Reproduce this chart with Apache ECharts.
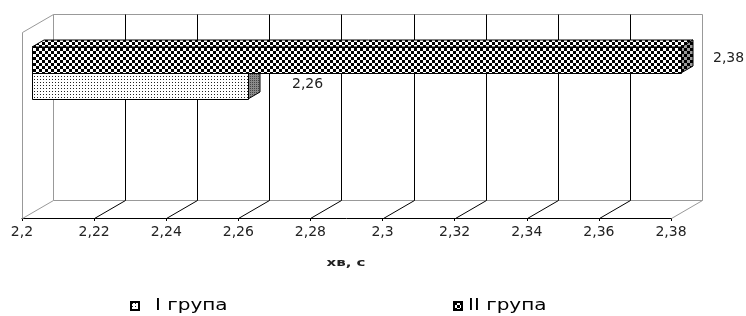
<!DOCTYPE html>
<html><head><meta charset="utf-8">
<script src="https://cdn.jsdelivr.net/npm/echarts@6/dist/echarts.min.js"></script>
<style>html,body{margin:0;padding:0;background:#fff}#c{width:746px;height:316px}</style>
</head><body><div id="c"></div>
<script>
// ---- data ----
const groups = ['I група', 'II група'];
const values = [2.26, 2.38];
const rowCategories = ['', 'row'];
const tickValues = [2.2, 2.22, 2.24, 2.26, 2.28, 2.3, 2.32, 2.34, 2.36, 2.38];
const tickLabels = ['2,2', '2,22', '2,24', '2,26', '2,28', '2,3', '2,32', '2,34', '2,36', '2,38'];
const axisTitle = 'хв, с';

// ---- styles ----
const FONT = 'DejaVu Sans';
const WALL_DX = 31, WALL_DY = 18;     // 3D wall depth
const BAR_FX = 10, BAR_FY = 6;        // bar front offset
const BAR_DX = 12, BAR_DY = 7;        // bar depth
const labelDx = [44, 32];
const legendIconLeft = [130, 453];
const legendTextLeft = [155, 468];

function pattern(w, h, draw) {
  const c = document.createElement('canvas'); c.width = w; c.height = h;
  const g = c.getContext('2d'); draw(g, w, h);
  return { image: c, repeat: 'repeat' };
}
const checkerFront = pattern(6, 6, (g) => { g.fillStyle = '#fff'; g.fillRect(0,0,6,6); g.fillStyle = '#000'; g.fillRect(0,0,3,3); g.fillRect(3,3,3,3); });
const checkerSide = pattern(6, 6, (g) => { g.fillStyle = '#9a9a9a'; g.fillRect(0,0,6,6); g.fillStyle = '#000'; g.fillRect(0,0,3,3); g.fillRect(3,3,3,3); });
const dotsFront = pattern(3, 3, (g) => { g.fillStyle = '#fff'; g.fillRect(0,0,3,3); g.fillStyle = '#222'; g.fillRect(1,1,1,1); });
const dotsSide = pattern(2, 2, (g) => { g.fillStyle = '#8a8a8a'; g.fillRect(0,0,2,2); g.fillStyle = '#444'; g.fillRect(0,0,1,1); });
const fills = [
  { front: dotsFront, top: dotsFront, side: dotsSide },
  { front: checkerFront, top: checkerFront, side: checkerSide }
];

const h5 = (v) => Math.round(v) + 0.5;

function wallRender(params, api) {
  const cs = params.coordSys;
  const v = api.value(0);
  const x = Math.round(api.coord([v, 0])[0]);
  const top = cs.y, bottom = cs.y + cs.height, right = cs.x + cs.width;
  const edge = (v === tickValues[0] || v === tickValues[tickValues.length - 1]);
  const col = edge ? '#999' : '#000';
  const gray = '#999';
  const line = (x1, y1, x2, y2, c) => ({ type: 'line', shape: { x1: h5(x1), y1: h5(y1), x2: h5(x2), y2: h5(y2) }, style: { stroke: c, lineWidth: 1 } });
  const children = [
    line(x, bottom, x + WALL_DX, bottom - WALL_DY, col),
    line(x + WALL_DX, bottom - WALL_DY, x + WALL_DX, top - WALL_DY, col)
  ];
  if (v === tickValues[0]) {
    children.push(line(x, top, x, bottom, gray));
    children.push(line(x, top, x + WALL_DX, top - WALL_DY, gray));
    children.push(line(x + WALL_DX, bottom - WALL_DY, right + WALL_DX, bottom - WALL_DY, gray));
    children.push(line(x + WALL_DX, top - WALL_DY, right + WALL_DX, top - WALL_DY, gray));
  }
  return { type: 'group', children };
}

function barRender(si) {
  return function (params, api) {
    const v = api.value(0), cat = api.value(1);
    const p0 = api.coord([tickValues[0], cat]);
    const p1 = api.coord([v, cat]);
    const band = api.size([0, 1])[1];
    const h = Math.round(band * 0.28);
    const center = Math.round(p0[1]);
    const yt = (si === 0 ? center : center - h) - BAR_FY;
    const yb = yt + h;
    const x0 = Math.round(p0[0]) + BAR_FX, x1 = Math.round(p1[0]) + BAR_FX;
    const f = fills[si];
    const st = (fill) => ({ fill, stroke: '#000', lineWidth: 1 });
    return {
      type: 'group',
      children: [
        { type: 'polygon', shape: { points: [[x0, yt], [x1, yt], [x1 + BAR_DX, yt - BAR_DY], [x0 + BAR_DX, yt - BAR_DY]] }, style: st(f.top) },
        { type: 'polygon', shape: { points: [[x1, yt], [x1 + BAR_DX, yt - BAR_DY], [x1 + BAR_DX, yb - BAR_DY], [x1, yb]] }, style: st(f.side) },
        { type: 'rect', shape: { x: x0 + 0.5, y: yt + 0.5, width: x1 - x0, height: h }, style: st(f.front) },
        { type: 'text', x: x1 + labelDx[si], y: (yt + yb) / 2 - 2,
          style: { text: String(v).replace('.', ','), font: '14px "' + FONT + '"', fill: '#222', align: 'left', verticalAlign: 'middle' } }
      ]
    };
  };
}

const chart = echarts.init(document.getElementById('c'), null, { renderer: 'canvas' });
chart.setOption({
  animation: false,
  backgroundColor: '#fff',
  textStyle: { fontFamily: FONT },
  grid: { left: 22, right: 75, top: 32, bottom: 98, containLabel: false },
  xAxis: {
    type: 'value', min: tickValues[0], max: tickValues[tickValues.length - 1], interval: 0.02,
    axisLine: { show: true, lineStyle: { color: '#000', width: 1 } },
    axisTick: { show: true, length: 3, lineStyle: { color: '#000' } },
    splitLine: { show: false },
    axisLabel: {
      margin: 7, fontSize: 14, color: '#222', fontFamily: FONT,
      formatter: (v) => tickLabels[Math.round((v - tickValues[0]) / 0.02)]
    }
  },
  yAxis: { type: 'category', data: rowCategories, show: false },
  legend: groups.map((g, i) => ({
    data: [g], left: legendIconLeft[i], top: 301, padding: 0, icon: 'rect', itemWidth: 8, itemHeight: 8,
    formatter: () => '', selectedMode: false
  })),
  graphic: [
    { type: 'text', x: 346, y: 263, scaleX: 1.5,
      style: { text: axisTitle, font: 'bold 10px "' + FONT + '"', fill: '#222', align: 'center', verticalAlign: 'middle' } },
    ...groups.map((g, i) => ({
      type: 'text', x: legendTextLeft[i], y: 306, scaleX: 1.25,
      style: { text: g, font: '16px "' + FONT + '"', fill: '#000', align: 'left', verticalAlign: 'middle' }
    }))
  ],
  series: [
    { name: 'wall', type: 'custom', z: 1, silent: true, renderItem: wallRender,
      data: tickValues.map(v => [v, 0]), encode: { x: 0, y: 1 } },
    { name: groups[0], type: 'custom', z: 3, renderItem: barRender(0),
      itemStyle: { color: dotsFront, borderColor: '#000', borderWidth: 1 },
      data: [[values[0], 1]], encode: { x: 0, y: 1 } },
    { name: groups[1], type: 'custom', z: 4, renderItem: barRender(1),
      itemStyle: { color: checkerFront, borderColor: '#000', borderWidth: 1 },
      data: [[values[1], 1]], encode: { x: 0, y: 1 } }
  ]
});
</script>
</body></html>
